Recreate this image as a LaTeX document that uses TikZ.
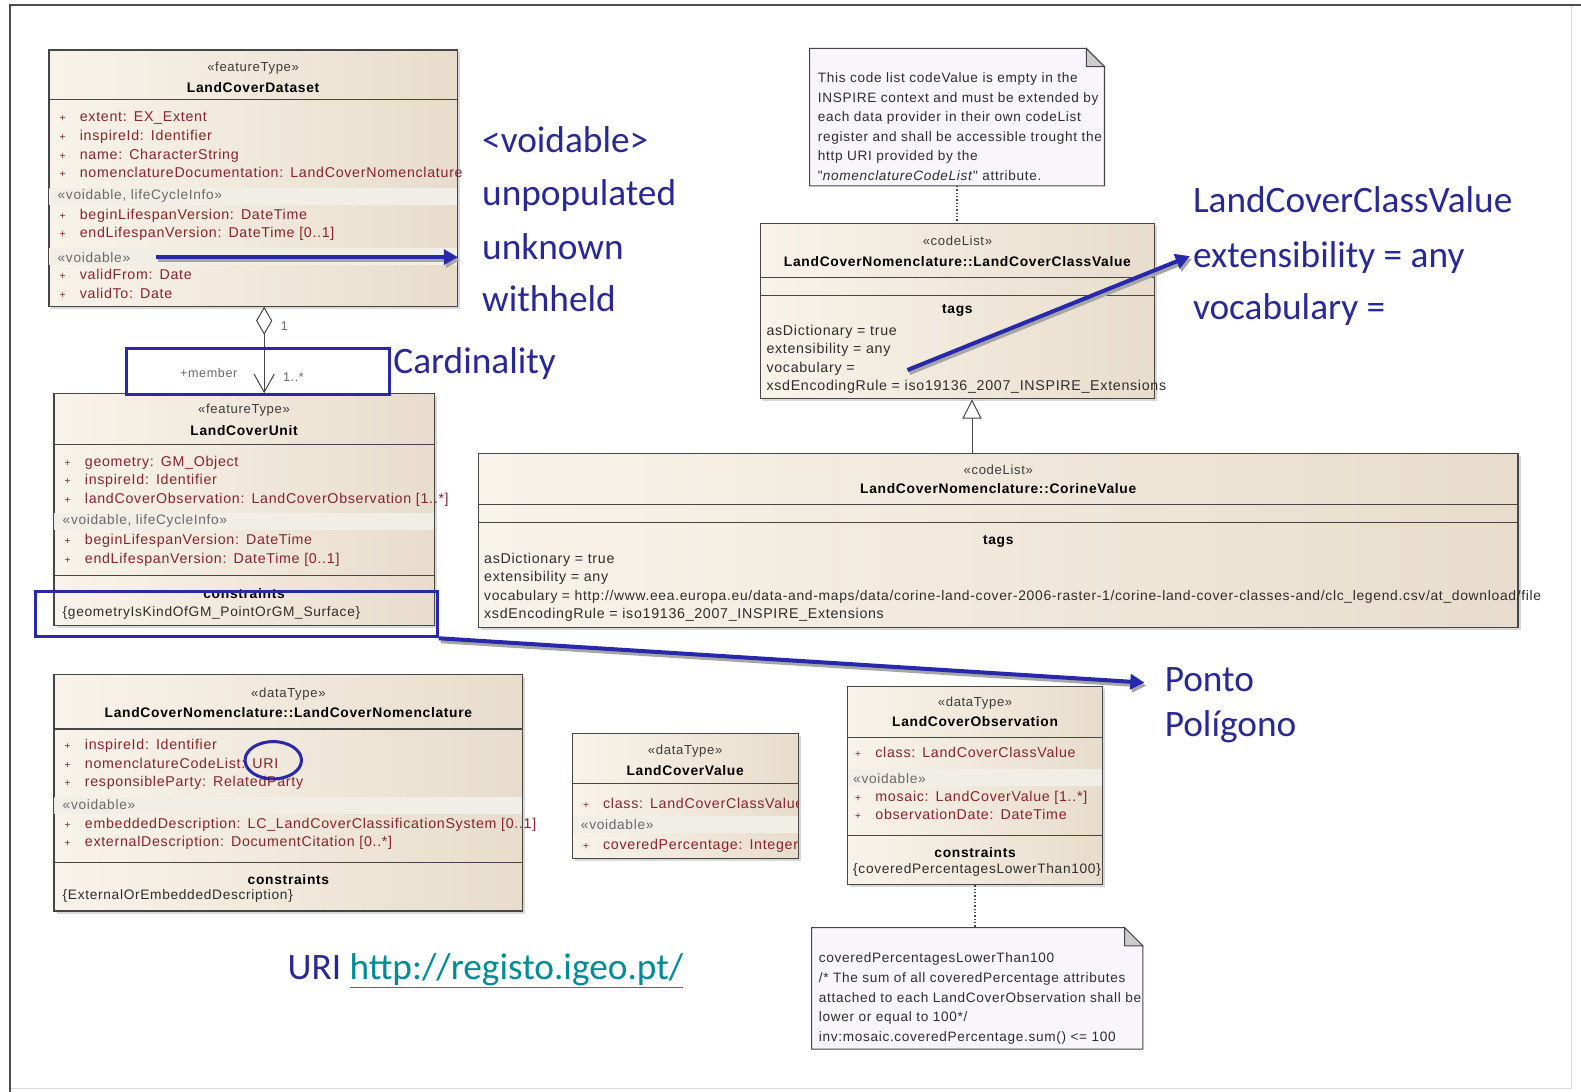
\documentclass[tikz,border=0pt]{standalone}
\usepackage{fontspec}
\setmainfont{Liberation Sans}
\newfontfamily\umlfont[LetterSpace=5]{Liberation Sans}
\newfontfamily\annofont{Carlito}
\usepackage{tikz}
\usetikzlibrary{calc}
\usetikzlibrary{positioning}
\usetikzlibrary{shapes.geometric}
\usetikzlibrary{arrows.meta}
\usetikzlibrary{shadows}
\definecolor{boxleft}{RGB}{248,243,234}
\definecolor{boxright}{RGB}{232,221,204}
\definecolor{umlborder}{RGB}{70,70,70}
\definecolor{attrred}{RGB}{135,35,45}
\definecolor{groupink}{RGB}{110,105,105}
\definecolor{stereoink}{RGB}{60,60,60}
\definecolor{bandfill}{RGB}{241,237,231}
\definecolor{tagink}{RGB}{45,45,45}
\definecolor{notefill}{RGB}{248,246,251}
\definecolor{annoblue}{RGB}{40,40,170}
\definecolor{annoink}{RGB}{40,40,150}
\definecolor{linkteal}{RGB}{0,140,150}
\tikzstyle{umlclass} = [draw=umlborder, line width=1.1pt, left color=boxleft, right color=boxright, anchor=north west, inner sep=0pt, drop shadow={shadow xshift=2.5pt, shadow yshift=-2.5pt, fill=black!30}]
\tikzstyle{notebox} = [anchor=north west, inner sep=0pt]
\tikzstyle{noteline} = [draw=umlborder, line width=1pt, fill=notefill]
\tikzstyle{stereo} = [inner sep=0pt, text=stereoink, font=\umlfont\fontsize{13}{15}\selectfont]
\tikzstyle{classname} = [inner sep=0pt, text=black, font=\umlfont\bfseries\fontsize{13.7}{15}\selectfont]
\tikzstyle{attrs} = [anchor=north west, align=left, inner sep=0pt, text=attrred, font=\umlfont\fontsize{14.1}{18.4}\selectfont]
\tikzstyle{tagrows} = [attrs, text=tagink]
\tikzstyle{grouplbl} = [anchor=west, inner sep=0pt, text=groupink, font=\umlfont\fontsize{13.6}{15}\selectfont]
\tikzstyle{band} = [fill=bandfill]
\tikzstyle{divider} = [draw=umlborder, line width=1.1pt]
\tikzstyle{assoc} = [draw=umlborder, line width=1pt]
\tikzstyle{assoclbl} = [inner sep=0pt, text=groupink, font=\umlfont\fontsize{12.5}{14}\selectfont]
\tikzstyle{notelink} = [draw=umlborder, line width=1.3pt, dotted]
\tikzstyle{annobox} = [draw=annoblue, line width=3pt, inner sep=0pt, anchor=north west]
\tikzstyle{annoarrow} = [draw=annoblue, line width=4pt, -{Triangle[length=14pt,width=15pt]}]
\tikzstyle{annoshade} = [draw=black!35, line width=4pt, -{Triangle[length=14pt,width=15pt]}, transform canvas={shift={(2pt,-3pt)}}]
\tikzstyle{annotext} = [anchor=west, inner sep=0pt, text height=26pt, text depth=8pt, text=annoink, font=\annofont\fontsize{37}{44}\selectfont]
\newcommand{\umlattr}[2]{\makebox[20pt][l]{\fontsize{10}{10}\selectfont+}#1:\hspace{7pt}#2}

\begin{document}
\begin{tikzpicture}[x=1pt, y=-1pt]
\useasboundingbox (0,0) rectangle (1568,1083);
\fill[white] (0,0) rectangle (1568,1083);
% slide frame
\draw[black!15, line width=1pt] (1559,5) -- (1559,1080) -- (10,1080);
\draw[black!70, line width=2pt] (10,1083) -- (10,5) -- (1568,5);

% LandCoverDataset
\node[umlclass, minimum width=405pt, minimum height=254pt] (dataset) at (48,49) {};
\fill[band] ($(dataset.north west)+(1,137)$) rectangle ($(dataset.north east)+(-1,154)$);
\fill[band] ($(dataset.north west)+(1,197)$) rectangle ($(dataset.north east)+(-1,214)$);
\draw[divider] ($(dataset.north west)+(0,50)$) -- ($(dataset.north east)+(0,50)$);
\node[stereo] (dataset_st) at ($(dataset.north)+(0,19)$) {«featureType»};
\node[classname] (dataset_nm) at ($(dataset.north)+(0,38)$) {LandCoverDataset};
\node[attrs] (dataset_a1) at ($(dataset.north west)+(11,62)$) {\umlattr{extent}{EX\_Extent}\\ \umlattr{inspireId}{Identifier}\\ \umlattr{name}{CharacterString}\\ \umlattr{nomenclatureDocumentation}{LandCoverNomenclature}};
\node[grouplbl] (dataset_g1) at ($(dataset.north west)+(9,145)$) {«voidable, lifeCycleInfo»};
\node[attrs] (dataset_a2) at ($(dataset.north west)+(11,158)$) {\umlattr{beginLifespanVersion}{DateTime}\\ \umlattr{endLifespanVersion}{DateTime [0..1]}};
\node[grouplbl] (dataset_g2) at ($(dataset.north west)+(9,206)$) {«voidable»};
\node[attrs] (dataset_a3) at ($(dataset.north west)+(11,218)$) {\umlattr{validFrom}{Date}\\ \umlattr{validTo}{Date}};

% LandCoverUnit
\node[umlclass, minimum width=377pt, minimum height=230pt] (unit) at (53,390) {};
\fill[band] ($(unit.north west)+(1,119)$) rectangle ($(unit.north east)+(-1,136)$);
\draw[divider] ($(unit.north west)+(0,51)$) -- ($(unit.north east)+(0,51)$);
\draw[divider] ($(unit.north west)+(0,181)$) -- ($(unit.north east)+(0,181)$);
\node[stereo] (unit_st) at ($(unit.north)+(0,17)$) {«featureType»};
\node[classname] (unit_nm) at ($(unit.north)+(0,37)$) {LandCoverUnit};
\node[attrs] (unit_a1) at ($(unit.north west)+(11,62)$) {\umlattr{geometry}{GM\_Object}\\ \umlattr{inspireId}{Identifier}\\ \umlattr{landCoverObservation}{LandCoverObservation [1..*]}};
\node[grouplbl] (unit_g1) at ($(unit.north west)+(9,127)$) {«voidable, lifeCycleInfo»};
\node[attrs] (unit_a2) at ($(unit.north west)+(11,140)$) {\umlattr{beginLifespanVersion}{DateTime}\\ \umlattr{endLifespanVersion}{DateTime [0..1]}};
\node[classname] (unit_cn) at ($(unit.north)+(0,199)$) {constraints};
\node[grouplbl, text=tagink] (unit_c1) at ($(unit.north west)+(9,218)$) {\{geometryIsKindOfGM\_PointOrGM\_Surface\}};

% aggregation dataset - unit
\coordinate (aggx) at ($(dataset.south west)+(214,0)$);
\draw[assoc, {Diamond[open, fill=white, length=28pt, width=16pt]}-{Straight Barb[length=18pt, width=20pt]}] (aggx) -- (aggx |- unit.north);
\node[assoclbl] (agg_one) at ($(aggx)+(20,19)$) {1};
\node[assoclbl] (agg_role) at ($(aggx)+(-55,66)$) {+member};
\node[assoclbl] (agg_many) at ($(aggx)+(29,70)$) {1..*};

% code list note
\node[notebox, minimum width=292pt, minimum height=136pt] (note1) at (803,48) {};
\draw[noteline] (note1.north west) -- ($(note1.north east)+(-18,0)$) -- ($(note1.north east)+(0,18)$) -- (note1.south east) -- (note1.south west) -- cycle;
\draw[noteline, fill=black!20] ($(note1.north east)+(-18,0)$) -- ($(note1.north east)+(-18,18)$) -- ($(note1.north east)+(0,18)$) -- cycle;
\node[tagrows, font=\umlfont\fontsize{13.5}{19.4}\selectfont] (note1_txt) at ($(note1.north west)+(8,24)$) {This code list codeValue is empty in the\\ INSPIRE context and must be extended by\\ each data provider in their own codeList\\ register and shall be accessible trought the\\ http URI provided by the\\ "\textit{nomenclatureCodeList}" attribute.};

% LandCoverClassValue
\node[umlclass, minimum width=390pt, minimum height=174pt] (classvalue) at (754,221) {};
\draw[divider] ($(classvalue.north west)+(0,54)$) -- ($(classvalue.north east)+(0,54)$);
\draw[divider] ($(classvalue.north west)+(0,72)$) -- ($(classvalue.north east)+(0,72)$);
\node[stereo] (classvalue_st) at ($(classvalue.north)+(0,18)$) {«codeList»};
\node[classname] (classvalue_nm) at ($(classvalue.north)+(0,38)$) {LandCoverNomenclature::LandCoverClassValue};
\node[classname] (classvalue_tg) at ($(classvalue.north)+(0,87)$) {tags};
\node[tagrows] (classvalue_t1) at ($(classvalue.north west)+(6,101)$) {asDictionary = true\\ extensibility = any\\ vocabulary =\\ xsdEncodingRule = iso19136\_2007\_INSPIRE\_Extensions};
\draw[notelink] (note1.south) -- (note1.south |- classvalue.north);

% CorineValue
\node[umlclass, minimum width=1031pt, minimum height=173pt] (corine) at (474,449) {};
\draw[divider] ($(corine.north west)+(0,51)$) -- ($(corine.north east)+(0,51)$);
\draw[divider] ($(corine.north west)+(0,69)$) -- ($(corine.north east)+(0,69)$);
\node[stereo] (corine_st) at ($(corine.north)+(0,17)$) {«codeList»};
\node[classname] (corine_nm) at ($(corine.north)+(0,36)$) {LandCoverNomenclature::CorineValue};
\node[classname] (corine_tg) at ($(corine.north)+(0,88)$) {tags};
\node[tagrows] (corine_t1) at ($(corine.north west)+(6,99)$) {asDictionary = true\\ extensibility = any\\ {\fontsize{13.75}{18.4}\selectfont vocabulary = http://www.eea.europa.eu/data-and-maps/data/corine-land-cover-2006-raster-1/corine-land-cover-classes-and/clc\_legend.csv/at\_download/file}\\ xsdEncodingRule = iso19136\_2007\_INSPIRE\_Extensions};

% generalization
\coordinate (genx) at ($(classvalue.south west)+(210,0)$);
\draw[assoc, -{Triangle[open, fill=white, length=19pt, width=19pt]}] (genx |- corine.north) -- (genx);

% LandCoverNomenclature
\node[umlclass, minimum width=465pt, minimum height=235pt] (nomen) at (53,668) {};
\fill[band] ($(nomen.north west)+(1,122)$) rectangle ($(nomen.north east)+(-1,139)$);
\draw[divider] ($(nomen.north west)+(0,55)$) -- ($(nomen.north east)+(0,55)$);
\draw[divider] ($(nomen.north west)+(0,187)$) -- ($(nomen.north east)+(0,187)$);
\node[stereo] (nomen_st) at ($(nomen.north)+(0,20)$) {«dataType»};
\node[classname] (nomen_nm) at ($(nomen.north)+(0,39)$) {LandCoverNomenclature::LandCoverNomenclature};
\node[attrs] (nomen_a1) at ($(nomen.north west)+(11,65)$) {\umlattr{inspireId}{Identifier}\\ \umlattr{nomenclatureCodeList}{URI}\\ \umlattr{responsibleParty}{RelatedParty}};
\node[grouplbl] (nomen_g1) at ($(nomen.north west)+(9,130)$) {«voidable»};
\node[attrs] (nomen_a2) at ($(nomen.north west)+(11,143)$) {\umlattr{embeddedDescription}{LC\_LandCoverClassificationSystem [0..1]}\\ \umlattr{externalDescription}{DocumentCitation [0..*]}};
\node[classname] (nomen_cn) at ($(nomen.north)+(0,204)$) {constraints};
\node[grouplbl, text=tagink] (nomen_c1) at ($(nomen.north west)+(9,221)$) {\{ExternalOrEmbeddedDescription\}};

% LandCoverValue
\node[umlclass, minimum width=224pt, minimum height=124pt] (value) at (567,727) {};
\fill[band] ($(value.north west)+(1,82)$) rectangle ($(value.north east)+(-1,99)$);
\draw[divider] ($(value.north west)+(0,50)$) -- ($(value.north east)+(0,50)$);
\node[stereo] (value_st) at ($(value.north)+(0,18)$) {«dataType»};
\node[classname] (value_nm) at ($(value.north)+(0,37)$) {LandCoverValue};
\begin{scope}
\clip (value.north west) rectangle (value.south east);
\node[attrs] (value_a1) at ($(value.north west)+(11,64)$) {\umlattr{class}{LandCoverClassValue}};
\node[grouplbl] (value_g1) at ($(value.north west)+(9,91)$) {«voidable»};
\node[attrs] (value_a2) at ($(value.north west)+(11,105)$) {\umlattr{coveredPercentage}{Integer}};
\end{scope}

% LandCoverObservation
\node[umlclass, minimum width=253pt, minimum height=197pt] (observation) at (840,680) {};
\fill[band] ($(observation.north west)+(1,83)$) rectangle ($(observation.north east)+(-1,100)$);
\draw[divider] ($(observation.north west)+(0,51)$) -- ($(observation.north east)+(0,51)$);
\draw[divider] ($(observation.north west)+(0,149)$) -- ($(observation.north east)+(0,149)$);
\node[stereo] (observation_st) at ($(observation.north)+(0,17)$) {«dataType»};
\node[classname] (observation_nm) at ($(observation.north)+(0,36)$) {LandCoverObservation};
\node[attrs] (observation_a1) at ($(observation.north west)+(8,61)$) {\umlattr{class}{LandCoverClassValue}};
\node[grouplbl] (observation_g1) at ($(observation.north west)+(6,92)$) {«voidable»};
\node[attrs] (observation_a2) at ($(observation.north west)+(8,104)$) {\umlattr{mosaic}{LandCoverValue [1..*]}\\ \umlattr{observationDate}{DateTime}};
\node[classname] (observation_cn) at ($(observation.north)+(0,166)$) {constraints};
\node[grouplbl, text=tagink] (observation_c1) at ($(observation.north west)+(6,183)$) {\{coveredPercentagesLowerThan100\}};

% constraint note
\node[notebox, minimum width=328pt, minimum height=120pt] (note2) at (805,920) {};
\draw[noteline] (note2.north west) -- ($(note2.north east)+(-18,0)$) -- ($(note2.north east)+(0,18)$) -- (note2.south east) -- (note2.south west) -- cycle;
\draw[noteline, fill=black!20] ($(note2.north east)+(-18,0)$) -- ($(note2.north east)+(-18,18)$) -- ($(note2.north east)+(0,18)$) -- cycle;
\node[tagrows, font=\umlfont\fontsize{13.5}{19.5}\selectfont] (note2_txt) at ($(note2.north west)+(7,25)$) {coveredPercentagesLowerThan100\\ /* The sum of all coveredPercentage attributes\\ attached to each LandCoverObservation shall be\\ lower or equal to 100*/\\ inv:mosaic.coveredPercentage.sum() <= 100};
\draw[notelink] (observation.south) -- (observation.south |- note2.north);

% annotations
\node[annotext] (voidlbl) at (478,142) {<voidable>};
\node[annotext] (unpoplbl) at ($(voidlbl.west)+(0,53)$) {unpopulated};
\node[annotext] (unknownlbl) at ($(unpoplbl.west)+(0,53)$) {unknown};
\node[annotext] (withheldlbl) at ($(unknownlbl.west)+(0,52)$) {withheld};
\coordinate (voidtail) at ($(dataset.north west)+(107,206)$);
\draw[annoshade] (voidtail) -- (voidtail -| dataset.east);
\draw[annoarrow] (voidtail) -- (voidtail -| dataset.east);

\node[annobox, minimum width=261pt, minimum height=46pt] (cardbox) at (124,344) {};
\node[annotext] (cardlbl) at ($(cardbox.east)+(2,-7)$) {Cardinality};

\node[annotext] (clslbl) at (1183,202) {LandCoverClassValue};
\node[annotext] (extlbl) at ($(clslbl.west)+(0,54)$) {extensibility = any};
\node[annotext] (voclbl) at ($(extlbl.west)+(0,52)$) {vocabulary =};
\coordinate (vocabtail) at ($(classvalue.north west)+(146,146)$);
\coordinate (vocabtip) at ($(extlbl.west)+(-3,-2)$);
\draw[annoshade] (vocabtail) -- (vocabtip);
\draw[annoarrow] (vocabtail) -- (vocabtip);

\node[annobox, minimum width=398pt, minimum height=45pt] (consbox) at (34,585) {};
\node[annotext] (ponto) at (1155,677) {Ponto};
\node[annotext] (poligono) at ($(ponto.west)+(0,44)$) {Polígono};
\coordinate (pontotip) at ($(ponto.west)+(-20,0)$);
\draw[annoshade] (consbox.south east) -- (pontotip);
\draw[annoarrow] (consbox.south east) -- (pontotip);

\node[draw=annoblue, line width=3pt, ellipse, minimum width=56pt, minimum height=37pt, inner sep=0pt] (urimark) at (271,754) {};
\node[annotext] (urilbl) at (285,962) {URI \textcolor{linkteal}{\underline{http://registo.igeo.pt/}}};
\end{tikzpicture}
\end{document}
